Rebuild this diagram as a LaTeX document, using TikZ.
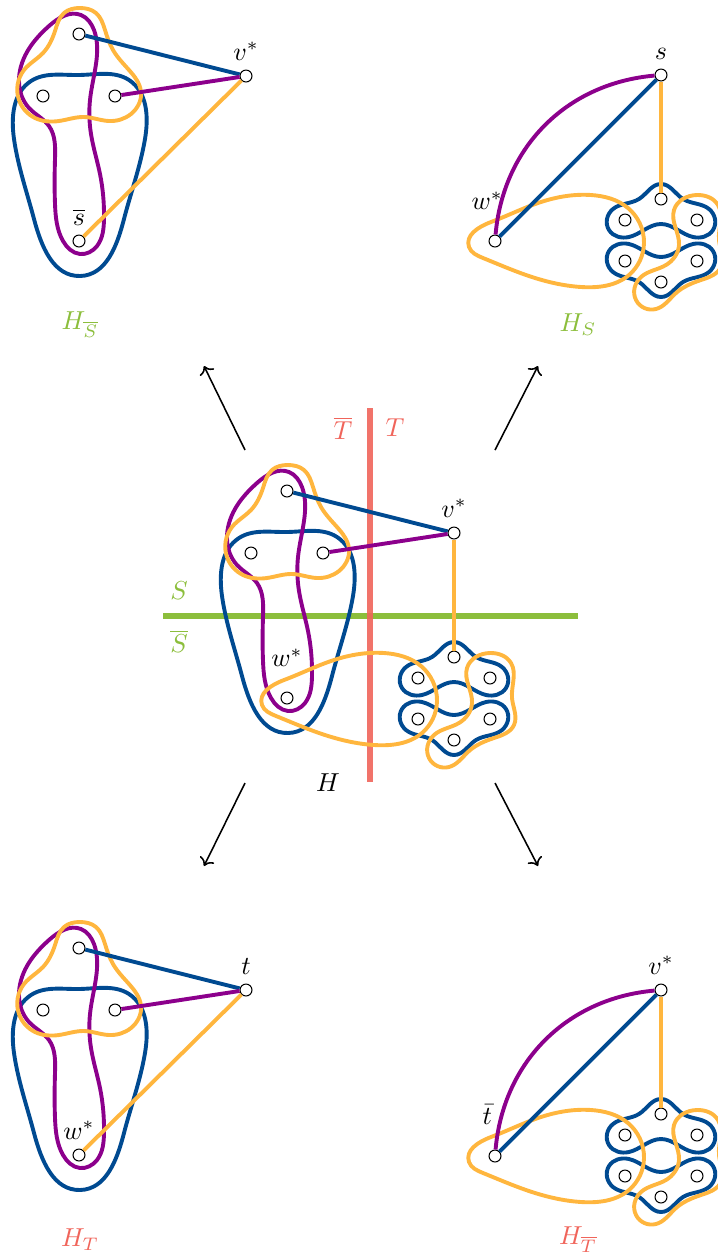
\documentclass[tikz,border=0pt]{standalone}
\usepackage{amsmath}
\usetikzlibrary{arrows.meta, hobby}
\definecolor{hblue}{RGB}{0,74,145}
\definecolor{hpurple}{RGB}{140,0,140}
\definecolor{horange}{RGB}{255,182,62}
\definecolor{hgreen}{RGB}{140,190,60}
\definecolor{hred}{RGB}{240,100,90}

% four vertices with their three hyperedges, top vertex at the origin
\newcommand{\leftpart}[2]{%
	\draw[hline, hblue, use Hobby shortcut, closed=true] (0,41) .. (50,46) .. (66,105) .. (45,185) .. (1,242) .. (-45,185) .. (-65,105) .. (-48,47);
	\draw[hline, hpurple, use Hobby shortcut, closed=true] (2,-19) .. (-30,-8) .. (-52,18) .. (-60,48) .. (-50,74) .. (-30,92) .. (-24,125) .. (-24,170) .. (-16,207) .. (1,220) .. (18,212) .. (25,185) .. (21,140) .. (12,100) .. (11,66) .. (17,30) .. (15,-4);
	\draw[hline, horange, use Hobby shortcut, closed=true] (1,-26) .. (-15,-21) .. (-24,-3) .. (-36,19) .. (-55,36) .. (-60,66) .. (-44,84) .. (-20,87) .. (5,83) .. (30,87) .. (52,80) .. (62,58) .. (50,36) .. (34,16) .. (26,-4) .. (17,-21);
	\node[vtx] (#1a) at (0,0) {};
	\node[vtx] (#1b) at (-36,62) {};
	\node[vtx] (#1c) at (36,62) {};
	\node[vtx, label={#2}] (#1d) at (0,207) {};
}

% six vertex cluster below the apex at the origin
\newcommand{\clusterpart}[1]{%
	\draw[hline, hblue, use Hobby shortcut, closed=true] (0,109) .. (22,124) .. (48,134) .. (52,155) .. (32,162) .. (0,149) .. (-32,162) .. (-52,155) .. (-48,134) .. (-22,124);
	\draw[hline, hblue, use Hobby shortcut, closed=true] (0,222) .. (22,207) .. (48,197) .. (52,176) .. (32,169) .. (0,182) .. (-32,169) .. (-52,176) .. (-48,197) .. (-22,207);
	\draw[hline, horange, use Hobby shortcut, closed=true] (13,135) .. (36,120) .. (57,130) .. (58,165) .. (60,192) .. (40,205) .. (15,218) .. (-5,234) .. (-25,225) .. (-20,202) .. (5,190) .. (18,170);
	\draw[hline, horange, use Hobby shortcut, closed=true] (-192,172) .. (-170,147) .. (-120,127) .. (-70,120) .. (-33,133) .. (-17,168) .. (-32,200) .. (-80,212) .. (-135,200) .. (-178,183);
	\node[vtx] (#1p) at (0,124) {};
	\node[vtx] (#1q) at (-36,145) {};
	\node[vtx] (#1r) at (36,145) {};
	\node[vtx] (#1u) at (-36,186) {};
	\node[vtx] (#1w) at (36,186) {};
	\node[vtx] (#1z) at (0,207) {};
}

\begin{document}
\begin{tikzpicture}[x=0.385pt, y=-0.385pt, every node/.style={font=\normalsize},
	hline/.style={line width=1.5pt},
	vtx/.style={circle, draw=black, fill=white, line width=0.4pt, inner sep=0pt, minimum size=4.6pt},
	eblue/.style={hline, hblue}, epurple/.style={hline, hpurple}, eorange/.style={hline, horange}]
	\clip (0,0) rectangle (718,1259);

	% top left: H over S-bar
	\begin{scope}[shift={(79,34)}]
		\leftpart{tl}{above:$\overline{s}$}
	\end{scope}
	\node[vtx, label=above:$v^*$] (tlv) at (246,76) {};
	\draw[eblue] (tla) -- (tlv);
	\draw[epurple] (tlc) -- (tlv);
	\draw[eorange] (tld) -- (tlv);
	\node[hgreen] (labSbar) at (80,325) {$H_{\overline{S}}$};

	% top right: H over S
	\begin{scope}[shift={(661,75)}]
		\clusterpart{tr}
	\end{scope}
	\node[vtx, label=above:$s$] (trv) at (661,75) {};
	\node[vtx, label={[label distance=6pt, xshift=-3pt]above:$w^*$}] (trw) at (495,241) {};
	\draw[epurple] (trw) to[bend left=40] (trv);
	\draw[eblue] (trw) -- (trv);
	\draw[eorange] (trv) -- (trp);
	\node[hgreen] (labS) at (578,325) {$H_S$};

	% middle: H with both cuts
	\draw[line width=2.3pt, hgreen] (163,616) coordinate (g1) -- (578,616) coordinate (g2);
	\draw[line width=2.3pt, hred, opacity=0.9] (370,408) coordinate (r1) -- (370,782) coordinate (r2);
	\node[hgreen] (S) at (179,591) {$S$};
	\node[hgreen] (Sbar) at (179,641) {$\overline{S}$};
	\node[hred] (Tbar) at (343,428) {$\overline{T}$};
	\node[hred] (T) at (395,428) {$T$};
	\begin{scope}[shift={(287,491)}]
		\leftpart{c}{[label distance=6pt]above:$w^*$}
	\end{scope}
	\begin{scope}[shift={(454,533)}]
		\clusterpart{cc}
	\end{scope}
	\node[vtx, label=above:$v^*$] (cv) at (454,533) {};
	\draw[eblue] (ca) -- (cv);
	\draw[epurple] (cc) -- (cv);
	\draw[eorange] (cv) -- (ccp);
	\node (H) at (328,783) {$H$};

	% arrows to the four pieces
	\coordinate (a1s) at (245,450); \coordinate (a1e) at (204,366);
	\coordinate (a2s) at (495,450); \coordinate (a2e) at (538,366);
	\coordinate (a3s) at (245,783); \coordinate (a3e) at (204,866);
	\coordinate (a4s) at (495,783); \coordinate (a4e) at (538,866);
	\draw[->, semithick] (a1s) -- (a1e);
	\draw[->, semithick] (a2s) -- (a2e);
	\draw[->, semithick] (a3s) -- (a3e);
	\draw[->, semithick] (a4s) -- (a4e);

	% bottom left: H over T
	\begin{scope}[shift={(79,948)}]
		\leftpart{bl}{above:$w^*$}
	\end{scope}
	\node[vtx, label=above:$t$] (blv) at (246,990) {};
	\draw[eblue] (bla) -- (blv);
	\draw[epurple] (blc) -- (blv);
	\draw[eorange] (bld) -- (blv);
	\node[hred] (labT) at (80,1240) {$H_T$};

	% bottom right: H over T-bar
	\begin{scope}[shift={(661,990)}]
		\clusterpart{br}
	\end{scope}
	\node[vtx, label=above:$v^*$] (brv) at (661,990) {};
	\node[vtx, label={[label distance=6pt, xshift=-3pt]above:$\bar{t}$}] (brw) at (495,1156) {};
	\draw[epurple] (brw) to[bend left=40] (brv);
	\draw[eblue] (brw) -- (brv);
	\draw[eorange] (brv) -- (brp);
	\node[hred] (labTbar) at (578,1240) {$H_{\overline{T}}$};
\end{tikzpicture}
\end{document}
